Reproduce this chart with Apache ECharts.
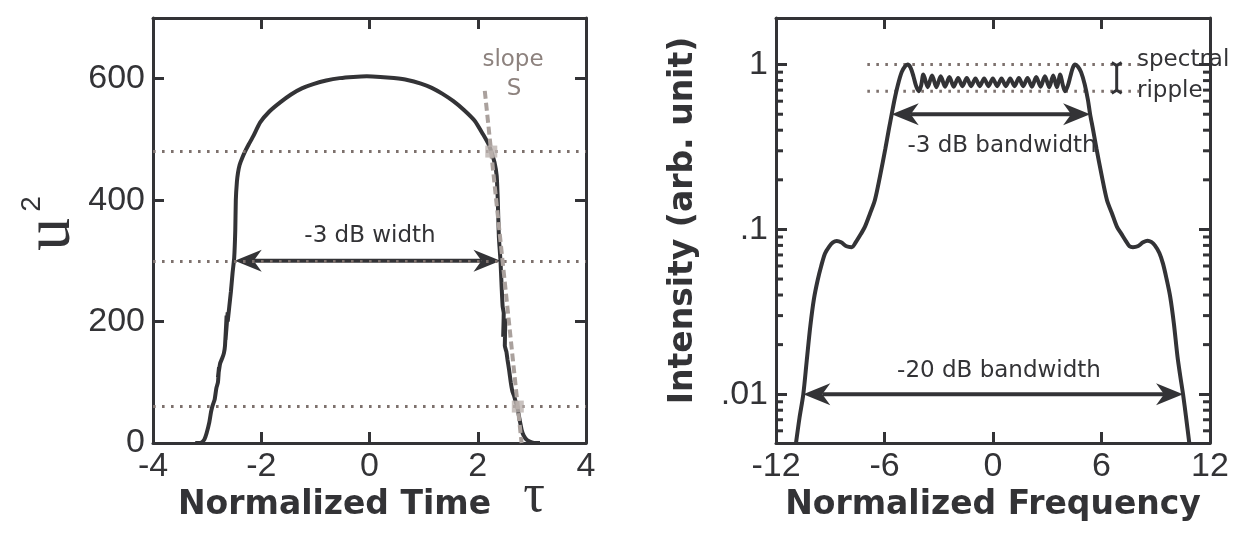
<!DOCTYPE html>
<html><head><meta charset="utf-8">
<script src="https://cdn.jsdelivr.net/npm/echarts@6/dist/echarts.min.js"></script>
<style>html,body{margin:0;padding:0;background:#fff}#c{width:1241px;height:534px}</style>
</head><body><div id="c"></div>
<script>
// ---------- Left panel: temporal profile ----------
const timeTau = [-3.22,-3.16,-3.10,-3.05,-3.01,-2.96,-2.93,-2.91,-2.89,-2.86,-2.83,-2.80,-2.78,-2.80,-2.76,-2.72,-2.69,-2.67,-2.64,-2.66,
  -2.62,-2.62,-2.59,-2.56,-2.53,-2.50,-2.48,-2.47,-2.45,-2.43,-2.40,-2.35,-2.30,-2.23,-2.15,-2.02,-1.85,-1.65,-1.45,-1.25,
  -1.04,-0.80,-0.55,-0.30,-0.05,0.20,0.45,0.70,0.95,1.15,1.35,1.55,1.75,1.95,2.10,2.20,2.25,2.31,2.35,2.37,
  2.39,2.42,2.44,2.46,2.48,2.47,2.51,2.50,2.53,2.55,2.58,2.61,2.64,2.67,2.70,2.73,2.77,2.81,2.85,2.91,
  3.00,3.08,3.15];
const timeU2 = [0,0,1,6,16,34,50,58,64,72,90,100,125,108,131,140,148,160,210,170,
  215,200,225,250,280,305,350,400,430,445,458,470,480,492,505,528,546,561,574,584,
  591,597,601,603,604,603,601,598,592,585,575,563,548,530,508,492,480,462,440,400,
  340,300,260,225,214,175,205,160,150,137,120,100,85,78,68,60,40,22,12,5,
  1,0,0];
const timeLevels = [60, 300, 480];          // dotted reference levels (10%, 50%, 80%)
const slopeTau = [2.13, 2.81];              // dashed slope line end points
const slopeU2 = [580, 0];
const slopeMarkTau = [2.25, 2.74];          // square markers on the slope
const slopeMarkU2 = [480, 60];
const widthArrowTau = [-2.49, 2.42];        // -3 dB width arrow
const widthArrowU2 = 300;

// ---------- Right panel: spectrum ----------
const freqF = [-10.90,-10.70,-10.49,-10.30,-10.10,-9.90,-9.70,-9.50,-9.29,-9.05,-8.85,-8.64,-8.40,-8.10,-7.82,-7.55,-7.30,-7.08,-6.80,-6.53,
  -6.25,-5.95,-5.75,-5.60,-5.45,-5.25,-5.05,-4.88,-4.72,-4.56,-4.40,-4.25,-4.10,-3.97,-3.85,-3.61,-3.37,-3.13,-2.89,-2.65,
  -2.41,-2.17,-1.93,-1.69,-1.45,-1.21,-0.97,-0.73,-0.49,-0.25,-0.01,0.23,0.47,0.71,0.95,1.19,1.43,1.67,1.91,2.15,
  2.39,2.63,2.87,3.11,3.33,3.53,3.72,3.85,3.98,4.13,4.28,4.42,4.54,4.70,4.87,5.07,5.25,5.37,5.52,5.72,
  6.02,6.30,6.58,6.85,7.10,7.35,7.55,7.74,8.00,8.30,8.55,8.75,8.95,9.20,9.40,9.60,9.80,10.00,10.20,10.35,
  10.51,10.68,10.86];
const freqI = [0.0050,0.0072,0.0100,0.0160,0.0260,0.0380,0.0490,0.0600,0.0715,0.0790,0.0835,0.0850,0.0835,0.0790,0.0780,0.0850,0.0940,0.1040,0.1250,0.1510,
  0.2100,0.3100,0.4100,0.5000,0.6100,0.7600,0.9000,0.9700,1.0000,0.9600,0.8500,0.7400,0.6900,0.7500,0.8700,0.7300,0.8600,0.7300,0.8500,0.7350,
  0.8400,0.7350,0.8300,0.7400,0.8300,0.7400,0.8250,0.7400,0.8250,0.7400,0.8250,0.7400,0.8250,0.7400,0.8250,0.7400,0.8300,0.7400,0.8300,0.7350,
  0.8400,0.7350,0.8500,0.7300,0.8600,0.7300,0.8700,0.7600,0.6900,0.7400,0.8500,0.9600,1.0000,0.9700,0.9000,0.7600,0.6100,0.5000,0.4100,0.3100,
  0.2100,0.1510,0.1250,0.1040,0.0940,0.0850,0.0790,0.0780,0.0790,0.0835,0.0855,0.0840,0.0800,0.0720,0.0620,0.0500,0.0390,0.0270,0.0170,0.0130,
  0.0100,0.0072,0.0050];
const rippleLevels = [1.0, 0.69];
const rippleLineF = [-6.95, 8.1];
const rippleBarF = 6.84;
const bw3Arrow = [-5.60, 5.37, 0.5];
const bw20Arrow = [-10.49, 10.51, 0.01];
const freqMinorTicks = [0.006,0.007,0.008,0.009,0.02,0.03,0.04,0.05,0.06,0.07,0.08,0.09,0.2,0.3,0.4,0.5,0.6,0.7,0.8,0.9];

const timeTicks = {min:-4, max:4, interval:2};
const u2Ticks = {min:0, max:700, interval:200};
const freqTicks = {min:-12, max:12, interval:6};
const intensityRange = {min:0.00506, max:1.918};

// ---------- styles ----------
const INK = '#333336';
const DOT = '#7d716d';
const SLOPE = '#aaa19d';
const FONT = 'DejaVu Sans';
const TICKFONT = 'Liberation Sans';

const chart = echarts.init(document.getElementById('c'), null, {renderer:'canvas'});

function axisBase(extra){
  return Object.assign({
    axisLine:{show:true, onZero:false, lineStyle:{color:INK, width:3}},
    axisTick:{show:true, inside:true, length:11, lineStyle:{color:INK, width:3}},
    splitLine:{show:false},
    axisLabel:{show:false}
  }, extra);
}
const labelStyle = (fmt, margin) => ({show:true, fontFamily:TICKFONT, fontSize:34, color:INK, margin:margin, formatter:fmt,
  showMinLabel:true, showMaxLabel:true});

function fmtLog(v){
  const l = Math.log10(v);
  if (Math.abs(l - Math.round(l)) > 1e-6) return '';
  const r = Math.round(l);
  if (r === 0) return '1';
  return String(Math.pow(10, r).toFixed(-r)).replace(/^0/, '');
}
function fmtLin(v){ return (v === 700) ? '' : String(v); }

function arrowItem(params, api){
  const y = api.value(2);
  const a = api.coord([api.value(0), y]);
  const b = api.coord([api.value(1), y]);
  const L = 27, W = 11, N = 8;
  return {type:'group', children:[
    {type:'line', shape:{x1:a[0]+L-N, y1:a[1], x2:b[0]-L+N, y2:b[1]}, style:{stroke:INK, lineWidth:4}},
    {type:'polygon', shape:{points:[[a[0],a[1]],[a[0]+L,a[1]-W],[a[0]+L-N,a[1]],[a[0]+L,a[1]+W]]}, style:{fill:INK}},
    {type:'polygon', shape:{points:[[b[0],b[1]],[b[0]-L,b[1]-W],[b[0]-L+N,b[1]],[b[0]-L,b[1]+W]]}, style:{fill:INK}}
  ]};
}
function errBarItem(params, api){
  const x = api.value(0);
  const a = api.coord([x, api.value(2)]);
  const b = api.coord([x, api.value(1)]);
  const c = 5;
  return {type:'group', children:[
    {type:'line', shape:{x1:a[0], y1:a[1], x2:b[0], y2:b[1]}, style:{stroke:INK, lineWidth:3}},
    {type:'polyline', shape:{points:[[a[0]-c,a[1]-2],[a[0],a[1]+1],[a[0]+c,a[1]-2]]}, style:{stroke:INK, lineWidth:3, fill:null}},
    {type:'polyline', shape:{points:[[b[0]-c,b[1]+2],[b[0],b[1]-1],[b[0]+c,b[1]+2]]}, style:{stroke:INK, lineWidth:3, fill:null}}
  ]};
}
function minorTickItem(params, api){
  const v = api.value(1);
  const l = api.coord([freqTicks.min, v]);
  const r = api.coord([freqTicks.max, v]);
  return {type:'group', children:[
    {type:'line', shape:{x1:l[0], y1:l[1], x2:l[0]+7, y2:l[1]}, style:{stroke:INK, lineWidth:3}},
    {type:'line', shape:{x1:r[0]-7, y1:r[1], x2:r[0], y2:r[1]}, style:{stroke:INK, lineWidth:3}}
  ]};
}

const option = {
  animation:false,
  backgroundColor:'#ffffff',
  grid:[
    {left:153, top:18, width:433, height:425, containLabel:false, outerBoundsMode:'none'},
    {left:776, top:18, width:434, height:425, containLabel:false, outerBoundsMode:'none'}
  ],
  xAxis:[
    axisBase({type:'value', gridIndex:0, position:'bottom', ...timeTicks,
      axisLabel:labelStyle(fmtLin, 7),
      name:'Normalized Time', nameLocation:'middle', nameGap:44,
      nameTextStyle:{fontFamily:FONT, fontWeight:'bold', fontSize:33, color:INK, padding:[0,70,0,0]}}),
    axisBase({type:'value', gridIndex:0, position:'top', ...timeTicks}),
    axisBase({type:'value', gridIndex:1, position:'bottom', ...freqTicks,
      axisLabel:labelStyle(v=>String(v), 7),
      name:'Normalized Frequency', nameLocation:'middle', nameGap:46,
      nameTextStyle:{fontFamily:FONT, fontWeight:'bold', fontSize:33, color:INK}}),
    axisBase({type:'value', gridIndex:1, position:'top', ...freqTicks})
  ],
  yAxis:[
    axisBase({type:'value', gridIndex:0, position:'left', ...u2Ticks,
      axisLabel:labelStyle(fmtLin, 8),
      name:'{u|u}{s|2}', nameLocation:'middle', nameRotate:90, nameGap:62,
      nameTextStyle:{padding:[0,0,0,14], rich:{
        u:{fontFamily:'Liberation Serif', fontSize:66, color:INK},
        s:{fontFamily:TICKFONT, fontSize:28, color:INK, verticalAlign:'top', padding:[0,0,0,6]}
      }}}),
    axisBase({type:'value', gridIndex:0, position:'right', ...u2Ticks}),
    axisBase({type:'log', logBase:10, gridIndex:1, position:'left', ...intensityRange,
      axisLabel:labelStyle(fmtLog, 8),
      name:'Intensity (arb. unit)', nameLocation:'middle', nameRotate:90, nameGap:76,
      nameTextStyle:{fontFamily:FONT, fontWeight:'bold', fontSize:33, color:INK, padding:[0,0,0,20]}}),
    axisBase({type:'log', logBase:10, gridIndex:1, position:'right', ...intensityRange})
  ],
  series:[
    {type:'line', xAxisIndex:0, yAxisIndex:0, data:[], silent:true,
      markLine:{silent:true, symbol:'none', label:{show:false},
        lineStyle:{type:[2.6,6.4], width:3, color:DOT},
        data:timeLevels.map(v=>({yAxis:v}))}},
    {type:'line', xAxisIndex:0, yAxisIndex:0, showSymbol:false, smooth:0.15, silent:true,
      lineStyle:{color:INK, width:4}, data:timeTau.map((t,i)=>[t, timeU2[i]]), z:3},
    {type:'custom', xAxisIndex:0, yAxisIndex:0, renderItem:arrowItem, silent:true, z:4,
      encode:{x:[0,1], y:2}, data:[[widthArrowTau[0], widthArrowTau[1], widthArrowU2]]},
    {type:'line', xAxisIndex:0, yAxisIndex:0, showSymbol:false, silent:true, z:5,
      lineStyle:{color:SLOPE, width:4, type:[8,4]}, data:slopeTau.map((t,i)=>[t, slopeU2[i]])},
    {type:'scatter', xAxisIndex:0, yAxisIndex:0, symbol:'rect', symbolSize:12, silent:true, z:6,
      itemStyle:{color:'#bcb3af'}, data:slopeMarkTau.map((t,i)=>[t, slopeMarkU2[i]])},

    ...rippleLevels.map(v=>({type:'line', xAxisIndex:2, yAxisIndex:2, showSymbol:false, silent:true, z:1,
      lineStyle:{color:DOT, width:3, type:[2.6,6.4]}, data:rippleLineF.map(f=>[f, v])})),
    {type:'line', xAxisIndex:2, yAxisIndex:2, showSymbol:false, smooth:0.3, silent:true,
      lineStyle:{color:INK, width:4}, data:freqF.map((f,i)=>[f, freqI[i]]), z:3},
    {type:'custom', xAxisIndex:2, yAxisIndex:2, renderItem:arrowItem, silent:true, z:4,
      encode:{x:[0,1], y:2}, data:[bw3Arrow, bw20Arrow]},
    {type:'custom', xAxisIndex:2, yAxisIndex:2, renderItem:errBarItem, silent:true, z:4,
      encode:{x:0, y:[1,2]}, data:[[rippleBarF, rippleLevels[1], rippleLevels[0]]]},
    {type:'custom', xAxisIndex:2, yAxisIndex:2, renderItem:minorTickItem, silent:true, z:4, clip:false,
      encode:{x:0, y:1}, data:freqMinorTicks.map(v=>[freqTicks.min, v])}
  ],
  graphic:[
    {type:'text', x:534, y:497, style:{text:'τ', fontFamily:'Liberation Serif', fontSize:54, fill:INK, align:'center', verticalAlign:'middle'}},
    {type:'text', x:370, y:236, style:{text:'-3 dB width', fontFamily:FONT, fontSize:23, fill:INK, align:'center', verticalAlign:'middle'}},
    {type:'text', x:513, y:60, style:{text:'slope', fontFamily:FONT, fontSize:23, fill:'#8d827e', align:'center', verticalAlign:'middle'}},
    {type:'text', x:514, y:89, style:{text:'S', fontFamily:FONT, fontSize:23, fill:'#8d827e', align:'center', verticalAlign:'middle'}},
    {type:'text', x:1137, y:60, style:{text:'spectral', fontFamily:FONT, fontSize:23, fill:INK, align:'left', verticalAlign:'middle'}},
    {type:'text', x:1137, y:91, style:{text:'ripple', fontFamily:FONT, fontSize:23, fill:INK, align:'left', verticalAlign:'middle'}},
    {type:'text', x:1002, y:146, style:{text:'-3 dB bandwidth', fontFamily:FONT, fontSize:23, fill:INK, align:'center', verticalAlign:'middle'}},
    {type:'text', x:999, y:371, style:{text:'-20 dB bandwidth', fontFamily:FONT, fontSize:23, fill:INK, align:'center', verticalAlign:'middle'}}
  ]
};
chart.setOption(option);
</script>
</body></html>
